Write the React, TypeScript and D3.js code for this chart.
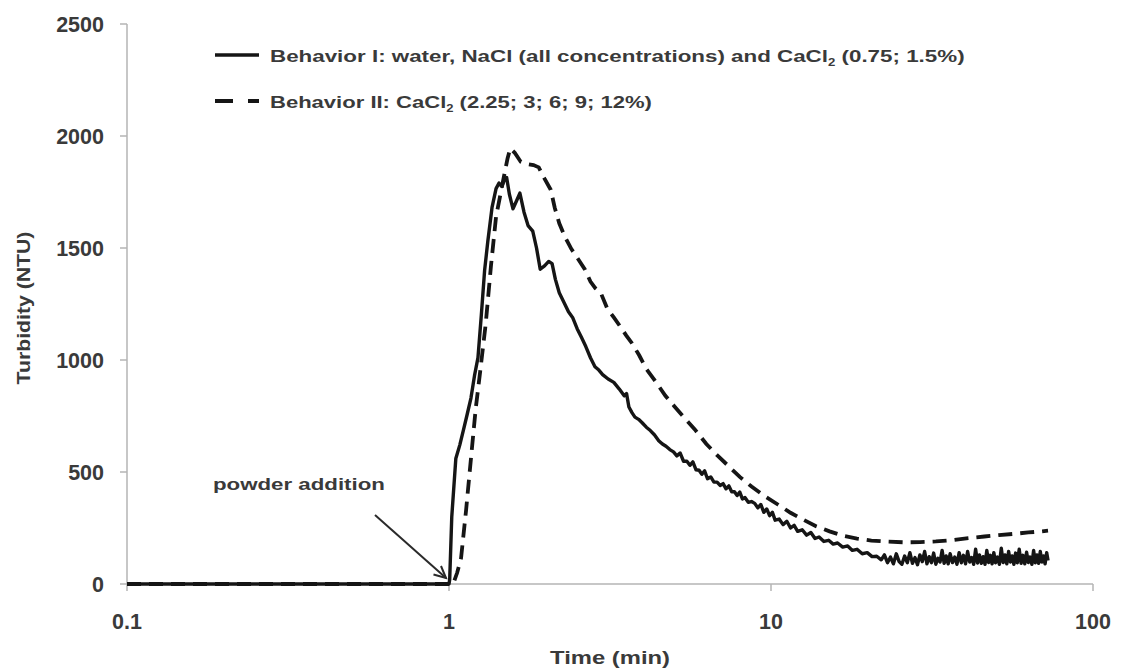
import React, { useLayoutEffect, useRef, useState } from "react";
import * as d3 from "d3";

// ---------- data ----------
const xTicks = [0.1, 1, 10, 100];
const xTickLabels = ["0.1", "1", "10", "100"];
const yTicks = [0, 500, 1000, 1500, 2000, 2500];

// Behavior I (solid)
const timeI = [
  0.1, 0.5, 1.0, 1.005, 1.02, 1.05, 1.08, 1.11, 1.14, 1.17, 1.2, 1.23, 1.26, 1.29, 1.32, 1.36, 1.4, 1.43, 1.46, 1.49,
  1.51, 1.54, 1.58, 1.62, 1.66, 1.71, 1.76, 1.82, 1.87, 1.92, 1.98, 2.04, 2.09, 2.14, 2.2, 2.28, 2.35, 2.42, 2.5, 2.58,
  2.66, 2.75, 2.84, 2.92, 3.0, 3.12, 3.25, 3.38, 3.5, 3.56, 3.62, 3.7, 3.78, 3.88, 3.98, 4.1, 4.22, 4.35, 4.48, 4.6,
  4.72, 4.85, 4.98, 5.1, 5.22, 5.35, 5.48, 5.6, 5.72, 5.85, 5.98, 6.1, 6.22, 6.35, 6.5, 6.65, 6.8, 6.95, 7.1, 7.25,
  7.4, 7.55, 7.7, 7.85, 8.0, 8.15, 8.3, 8.5, 8.7, 8.9, 9.1, 9.3, 9.5, 9.7, 9.9, 10.1, 10.3, 10.6, 10.9, 11.2,
  11.5, 11.8, 12.1, 12.5, 12.9, 13.3, 13.7, 14.1, 14.6, 15.1, 15.6, 16.1, 16.7, 17.3, 17.9, 18.5, 19.2, 19.9, 20.6, 21.3,
  22, 22.5, 23, 23.5, 24, 24.5, 25, 25.5, 26, 26.5, 27, 27.5, 28, 28.5, 29, 29.5, 30, 30.5, 31, 31.5,
  32, 32.5, 33, 33.5, 34, 34.5, 35, 35.5, 36, 36.6, 37.2, 37.8, 38.4, 39, 39.6, 40.2, 40.8, 41.4, 42, 42.6,
  43.2, 43.8, 44.4, 45, 45.6, 46.2, 46.8, 47.4, 48, 48.6, 49.2, 49.8, 50.5, 51.2, 51.9, 52.6, 53.3, 54, 54.7, 55.4,
  56.1, 56.8, 57.5, 58.2, 59, 59.8, 60.6, 61.4, 62.2, 63, 63.8, 64.6, 65.4, 66.2, 67, 67.8, 68.6, 69.4, 70.2, 71,
  71.8, 72.5,
];
const turbidityI = [
  0, 0, 0, 20, 300, 560, 620, 690, 760, 830, 930, 1010, 1200, 1400, 1530, 1680, 1765, 1790, 1775, 1808,
  1815, 1740, 1675, 1710, 1745, 1660, 1600, 1575, 1500, 1405, 1420, 1440, 1430, 1360, 1300, 1255, 1215, 1190, 1140, 1100,
  1060, 1010, 970, 955, 935, 915, 900, 870, 840, 850, 790, 765, 745, 735, 720, 700, 685, 665, 640, 625,
  615, 600, 590, 572, 585, 548, 548, 530, 545, 510, 508, 490, 505, 470, 478, 455, 455, 440, 448, 425,
  438, 412, 412, 395, 410, 380, 386, 365, 368, 360, 340, 355, 320, 335, 305, 320, 285, 290, 265, 280,
  250, 262, 235, 242, 218, 230, 203, 210, 190, 195, 178, 183, 165, 170, 150, 155, 135, 140, 122, 124,
  108, 130, 95, 120, 90, 135, 100, 88, 125, 95, 140, 92, 118, 86, 130, 100, 145, 90, 122, 95,
  138, 88, 115, 98, 150, 92, 125, 90, 135, 96, 120, 88, 140, 95, 128, 90, 145, 98, 118, 88,
  155, 94, 130, 92, 122, 88, 150, 96, 128, 90, 140, 95, 120, 88, 160, 96, 130, 90, 145, 98,
  125, 88, 138, 95, 155, 92, 128, 90, 142, 96, 120, 88, 150, 95, 130, 92, 145, 98, 125, 90,
  140, 105,
];

// Behavior II (dashed)
const timeII = [
  0.1, 1.0, 1.03, 1.06, 1.09, 1.13, 1.17, 1.21, 1.25, 1.3, 1.35, 1.4, 1.47, 1.52, 1.55, 1.6, 1.67, 1.75, 1.83, 1.9,
  1.98, 2.07, 2.13, 2.2, 2.3, 2.4, 2.52, 2.64, 2.75, 2.85, 2.96, 3.1, 3.25, 3.4, 3.55, 3.7, 3.9, 4.1, 4.4, 4.7,
  5.0, 5.4, 5.8, 6.3, 6.8, 7.4, 8.0, 8.7, 9.5, 10.5, 11.5, 12.6, 13.8, 15.2, 16.9, 18.5, 20.5, 23, 26, 29,
  32.5, 36.5, 41, 46, 51, 57, 63, 68, 72.5,
];
const turbidityII = [
  0, 0, 0, 50, 115, 330, 560, 780, 950, 1160, 1420, 1640, 1795, 1900, 1945, 1925, 1885, 1875, 1870, 1860,
  1810, 1760, 1680, 1610, 1545, 1495, 1450, 1405, 1350, 1320, 1300, 1230, 1190, 1150, 1110, 1075, 1020, 960, 900, 840,
  795, 740, 690, 625, 575, 525, 478, 435, 395, 355, 318, 287, 258, 235, 214, 203, 194, 189, 186, 187,
  190, 196, 205, 212, 218, 224, 230, 234, 238,
];

const legendI = ["Behavior I: water, NaCl (all concentrations) and CaCl", "2", " (0.75; 1.5%)"];
const legendII = ["Behavior II: CaCl", "2", " (2.25; 3; 6; 9; 12%)"];

// ---------- layout ----------
const W = 1123;
const H = 670;
const FONT = "'Liberation Sans', Arial, sans-serif";
const TEXT = "#3a3a3a";
const AXIS = "#b5b5b5";

function FitText({ x, y, width, anchor = "start", rotate = 0, size, children }: any) {
  const ref = useRef<SVGTextElement>(null);
  const [s, setS] = useState(1);
  useLayoutEffect(() => {
    if (ref.current) {
      const w = ref.current.getBBox().width;
      if (w > 0) setS(width / w);
    }
  }, [width]);
  return (
    <g transform={`translate(${x},${y}) rotate(${rotate}) scale(${s},1)`}>
      <text ref={ref} x={0} y={0} textAnchor={anchor} fontFamily={FONT} fontWeight="bold" fontSize={size} fill={TEXT}>
        {children}
      </text>
    </g>
  );
}

export default function App() {
  const x = d3.scaleLog().domain([0.1, 100]).range([127, 1093]);
  const y = d3.scaleLinear().domain([0, 2500]).range([584, 24]);

  const dataI = timeI.map((t, i) => [t, turbidityI[i]] as [number, number]);
  const dataII = timeII.map((t, i) => [t, turbidityII[i]] as [number, number]);
  const line = d3
    .line<[number, number]>()
    .x((d) => x(d[0]))
    .y((d) => y(d[1]));

  const tipX = x(1) - 3;
  const tipY = y(0) - 6;
  const tailX = 375;
  const tailY = 515;
  const ang = Math.atan2(tipY - tailY, tipX - tailX);
  const headLen = 13;
  const headA = 0.45;

  return (
    <svg width={W} height={H} style={{ position: "absolute", left: 0, top: 0, background: "#fff" }}>
      <rect width={W} height={H} fill="#fff" />
      {/* axes */}
      <line x1={x(0.1)} x2={x(0.1)} y1={y(2500)} y2={y(0)} stroke={AXIS} strokeWidth={1.5} />
      <line x1={x(0.1)} x2={x(100)} y1={y(0)} y2={y(0)} stroke={AXIS} strokeWidth={1.5} />
      {yTicks.map((t) => (
        <g key={"y" + t}>
          <line x1={x(0.1) - 7} x2={x(0.1)} y1={y(t)} y2={y(t)} stroke={AXIS} strokeWidth={1.5} />
          <text x={104} y={y(t) + 8} textAnchor="end" fontFamily={FONT} fontWeight="bold" fontSize={21.5} fill={TEXT}>
            {t}
          </text>
        </g>
      ))}
      {xTicks.map((t, i) => (
        <g key={"x" + t}>
          <line x1={x(t)} x2={x(t)} y1={y(0)} y2={y(0) + 7} stroke={AXIS} strokeWidth={1.5} />
          <text x={x(t)} y={629} textAnchor="middle" fontFamily={FONT} fontWeight="bold" fontSize={21.5} fill={TEXT}>
            {xTickLabels[i]}
          </text>
        </g>
      ))}
      <FitText x={610} y={664} width={120} anchor="middle" size={19}>
        Time (min)
      </FitText>
      <FitText x={30} y={308} width={153} anchor="middle" rotate={-90} size={18}>
        Turbidity (NTU)
      </FitText>

      {/* curves */}
      <path d={line(dataII) || ""} fill="none" stroke="#151515" strokeWidth={3.8} strokeDasharray="14,8" />
      <path d={line(dataI) || ""} fill="none" stroke="#151515" strokeWidth={3.4} strokeLinejoin="round" />

      {/* legend */}
      <line x1={215} x2={259} y1={55} y2={55} stroke="#151515" strokeWidth={3.5} />
      <FitText x={270} y={62} width={695} size={17}>
        {legendI[0]}
        <tspan fontSize={10} dy={4}>{legendI[1]}</tspan>
        <tspan dy={-4}>{legendI[2]}</tspan>
      </FitText>
      <line x1={215} x2={259} y1={101} y2={101} stroke="#151515" strokeWidth={4} strokeDasharray="18,15" />
      <FitText x={270} y={108} width={382} size={17}>
        {legendII[0]}
        <tspan fontSize={10} dy={4}>{legendII[1]}</tspan>
        <tspan dy={-4}>{legendII[2]}</tspan>
      </FitText>

      {/* annotation */}
      <FitText x={213} y={490} width={172} size={16}>
        powder addition
      </FitText>
      <line x1={tailX} y1={tailY} x2={tipX} y2={tipY} stroke="#2a2a2a" strokeWidth={2} />
      <polyline
        points={`${tipX - headLen * Math.cos(ang - headA)},${tipY - headLen * Math.sin(ang - headA)} ${tipX},${tipY} ${
          tipX - headLen * Math.cos(ang + headA)
        },${tipY - headLen * Math.sin(ang + headA)}`}
        fill="none"
        stroke="#2a2a2a"
        strokeWidth={2}
      />
    </svg>
  );
}
